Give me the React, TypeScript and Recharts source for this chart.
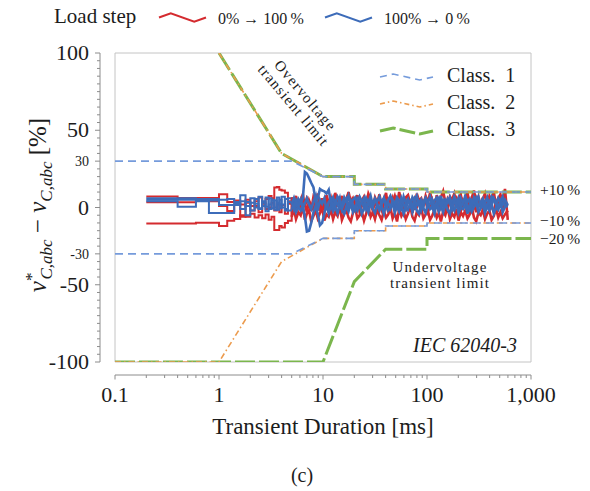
import React from 'react';
import { ComposedChart, Line, XAxis, YAxis, ReferenceArea, ReferenceLine, Legend } from 'recharts';

// ---- layout ----
const W = 590;
const H = 491;
const MARGIN = { top: 53, right: 59, bottom: 116, left: 100 };
const Y_AXIS_W = 15;
const X_AXIS_H = 13;
const PLOT_W = W - MARGIN.left - Y_AXIS_W - MARGIN.right;
const PLOT_H = H - MARGIN.top - MARGIN.bottom - X_AXIS_H;

const SERIF = "'Liberation Serif', 'Times New Roman', serif";
const INK = '#1c1c1c';
const AXIS = '#8c8c8c';
const FRAME = '#c4c4c4';

const RED = '#d42b2f';
const BLUE = '#3d6cb9';
const C1 = '#759bdb';
const C2 = '#ec9b4d';
const C3 = '#7bb64d';

// ---- axes ----
const xTicks = [
  0.1, 0.2, 0.3, 0.4, 0.5, 0.6, 0.7, 0.8, 0.9,
  1, 2, 3, 4, 5, 6, 7, 8, 9,
  10, 20, 30, 40, 50, 60, 70, 80, 90,
  100, 200, 300, 400, 500, 600, 700, 800, 900,
  1000,
];
const xMajor = [0.1, 1, 10, 100, 1000];
const xMajorLabels = ['0.1', '1', '10', '100', '1,000'];

const yTicks = [
  -100, -95, -90, -85, -80, -75, -70, -65, -60, -55, -50, -45, -40, -35, -30, -25, -20, -15, -10, -5,
  0, 5, 10, 15, 20, 25, 30, 35, 40, 45, 50, 55, 60, 65, 70, 75, 80, 85, 90, 95, 100,
];
const yMajor = [-100, -50, 0, 50, 100];
const yMinorLabelled = [-30, 30];

// ---- measured voltage error, three phases per load step (time in ms, error in %) ----
// first 5 ms: controller updates, held between samples
const heldTime = [
  0.2, 0.4, 0.6, 0.8, 1.0, 1.2, 1.4, 1.6, 1.8, 2.0,
  2.2, 2.4, 2.6, 2.8, 3.0, 3.2, 3.4, 3.6, 3.8, 4.0,
  4.3, 4.6, 5.0,
];
const upHeldA = [
  7.2, 6.2, 6.2, 6.2, 8.6, 3.5, 4.5, 2.0, 5.0, 1.0,
  4.0, 6.5, 3.0, 5.5, 7.5, 6.0, 13.0, 13.2, 11.5, 11.0,
  9.5, 4.0, 6.5,
];
const upHeldB = [
  3.4, 3.4, 4.2, 4.0, 1.0, -2.3, 2.0, -6.0, 3.0, -2.0,
  1.0, -3.0, 2.5, -1.0, 0.0, 3.0, -2.0, 2.0, -3.0, 1.5,
  -4.0, 2.5, -6.0,
];
const upHeldC = [
  -10.3, -10.3, -9.8, -9.8, -12.0, -8.5, -7.5, -5.0, -6.0, -4.0,
  -6.5, -5.0, -7.0, -4.5, -8.0, -6.0, -14.5, -14.5, -12.0, -13.0,
  -10.0, -8.5, 1.5,
];
const downHeldA = [
  6.0, 6.0, 5.5, 5.5, 5.0, 5.5, 3.5, 8.0, 1.0, 6.0,
  0.0, 7.0, 1.0, 6.5, -1.0, 5.0, 0.0, 6.5, 2.0, 7.0,
  -1.0, 6.0, 2.0,
];
const downHeldB = [
  5.0, 5.0, 4.5, 4.5, 1.6, 1.6, 1.6, 4.0, -5.0, 3.0,
  5.5, -1.0, 4.0, 0.5, 6.0, -0.5, 4.5, -1.5, 5.0, 0.0,
  5.5, -2.0, -1.0,
];
const downHeldC = [
  4.0, 0.5, 4.0, -3.5, -3.5, -3.5, 2.5, -1.0, 3.5, -2.0,
  2.5, -0.5, 3.0, -2.5, 2.0, 4.5, -1.5, 3.0, -0.5, 2.0,
  -2.0, 3.5, 3.5,
];

// from 5 ms on: densely sampled ripple
const denseTime = [
  5.0, 5.25, 5.5, 5.8, 6.1, 6.4, 6.7, 7.0, 7.35, 7.7,
  8.1, 8.5, 8.9, 9.35, 9.8, 10.3, 10.8, 11.35, 11.9, 12.5,
  13.1, 13.8, 14.5, 15.2, 16, 16.8, 17.6, 18.5, 19.4, 20.4,
  21.4, 22.5, 23.6, 24.8, 26, 27.3, 28.7, 30.1, 31.6, 33.2,
  34.9, 36.6, 38.5, 40.4, 42.4, 44.5, 46.7, 49, 51.5, 54,
  56.7, 59.6, 62.5, 65.7, 69, 72.4, 76, 79.8, 83.8, 88,
  92.4, 97, 102, 107, 112, 118, 124, 130, 136, 143,
  150, 158, 166, 174, 183, 192, 201, 211, 222, 233,
  245, 257, 270, 283, 297, 312, 328, 344, 361, 379,
  398, 418, 439, 461, 484, 508, 534, 562, 598,
];
const upDenseA = [
  6.5, 2.0, 7.5, -1.0, 5.0, 8.5, 0.5, 6.0, 3.5, -2.0,
  7.0, 4.5, 9.0, 1.0, 5.5, -1.5, 8.0, 3.0, 6.5, 0.0,
  9.5, 4.0, 2.5, 7.5, -2.0, 5.0, 10.0, 3.5, 6.0, 1.5,
  8.0, -1.0, 4.5, 7.0, 2.0, 9.0, 5.5, 0.5, 6.5, 3.0,
  8.5, 1.0, 5.0, 9.5, -0.5, 6.0, 3.5, 7.5, 2.0, 10.0,
  4.0, 0.0, 6.5, 8.0, 2.5, 5.5, -1.5, 9.0, 4.5, 6.0,
  1.0, 7.5, 3.0, 9.5, 5.0, -1.0, 8.0, 2.5, 6.5, 10.5,
  3.5, 0.5, 7.0, 5.0, 9.0, 1.5, 6.0, 8.5, -0.5, 4.0,
  9.5, 2.5, 6.5, 11.0, 3.0, 7.0, 0.0, 5.5, 9.0, 2.0,
  7.5, 4.5, 10.0, 1.0, 6.0, 8.5, 3.0, 12.0, -8.0,
];
const upDenseB = [
  -6.0, -1.0, -7.5, -3.0, -5.0, 0.5, -8.0, -4.0, -2.0, -9.0,
  -5.5, -1.5, -7.0, -3.5, 0.0, -8.5, -4.5, -6.0, -1.0, -7.5,
  -3.0, -5.5, 1.0, -8.0, -4.0, -2.0, -6.5, -9.0, -3.5, -0.5,
  -7.0, -5.0, -2.5, -8.5, -4.0, 0.5, -6.0, -3.0, -7.5, -1.5,
  -5.0, -8.0, -2.0, -6.5, -4.5, 0.0, -7.0, -3.5, -9.0, -1.0,
  -5.5, -2.5, -7.5, -4.0, 1.0, -6.0, -8.5, -3.0, -5.0, -0.5,
  -7.0, -4.5, -2.0, -8.0, -5.5, -1.5, -6.5, -3.5, -9.0, -2.5,
  -5.0, 0.5, -7.5, -4.0, -6.0, -1.0, -8.5, -3.0, -5.5, -2.0,
  -7.0, -4.5, 0.0, -6.5, -9.0, -3.5, -5.0, -1.5, -7.5, -4.0,
  -2.0, -8.0, -5.5, -0.5, -6.5, -3.0, -7.0, -4.5, -2.0,
];
const upDenseC = [
  1.5, 4.0, -2.5, 3.0, 0.0, 5.5, 2.0, -3.0, 4.5, 1.0,
  -1.5, 5.0, 2.5, -2.0, 6.0, 0.5, 3.5, -3.5, 4.0, 1.5,
  -0.5, 5.5, 2.0, -2.5, 3.0, 6.0, 0.0, 4.5, -1.5, 2.5,
  5.0, -3.0, 1.0, 4.0, -1.0, 6.5, 2.5, -2.0, 3.5, 0.5,
  5.5, -1.5, 2.0, 4.5, -3.0, 1.5, 6.0, 0.0, 3.0, -2.5,
  4.5, 1.0, -1.0, 5.5, 2.5, -3.5, 3.5, 0.5, 6.0, -1.5,
  2.0, 4.5, -2.5, 1.5, 5.0, 0.0, 3.0, -3.0, 4.0, 1.0,
  -1.5, 5.5, 2.5, -2.0, 3.5, 6.0, 0.5, -2.5, 4.5, 1.5,
  3.0, -1.0, 5.0, 2.0, -3.0, 4.0, 0.5, 6.5, -1.5, 2.5,
  5.0, 0.0, -2.5, 3.5, 1.0, 5.5, -1.0, 2.5, 1.0,
];
const downDenseA = [
  2.0, 6.0, 1.0, 5.5, 3.0, 6.0, 23.0, 22.0, 19.0, 16.0,
  13.0, 4.0, 6.0, 12.0, 11.0, 10.5, 9.0, 11.5, 3.0, 6.5,
  2.0, 7.0, 4.5, 1.0, 6.5, 3.5, 7.5, 0.5, 5.0, 6.5,
  2.5, 7.0, 4.0, 0.0, 6.0, 3.0, 7.5, 1.5, 5.5, 4.0,
  7.0, 2.0, 6.0, 0.5, 5.0, 7.5, 3.5, 1.0, 6.5, 4.5,
  0.0, 7.0, 3.0, 5.5, 1.5, 6.5, 4.0, 7.5, 2.0, 5.0,
  0.5, 6.0, 3.5, 7.0, 1.0, 4.5, 6.5, 2.5, 7.5, 0.0,
  5.0, 3.0, 6.5, 1.5, 7.0, 4.0, 0.5, 6.0, 2.5, 7.5,
  3.5, 5.5, 0.0, 6.5, 4.0, 7.0, 1.5, 5.0, 3.0, 6.5,
  0.5, 7.0, 4.5, 2.0, 6.0, 3.5, 7.0, 1.0, 2.0,
];
const downDenseB = [
  -1.0, 2.0, -3.0, 0.5, -2.0, 1.0, -6.0, -15.5, -15.0, -10.0,
  -3.0, 1.0, -4.0, -11.5, -10.0, -4.0, 2.0, -3.5, 1.5, -2.5,
  0.5, -3.5, 2.0, -1.5, -4.0, 1.0, -2.5, 3.0, -3.0, 0.0,
  -2.0, 2.5, -4.0, -0.5, 1.5, -3.0, 3.0, -1.0, -3.5, 2.0,
  -1.5, 0.5, -4.0, 2.5, -2.0, -0.5, 3.0, -3.5, 1.0, -2.5,
  2.0, -4.0, 0.0, -1.5, 3.0, -3.0, 1.5, -2.0, -4.0, 2.5,
  -0.5, -3.5, 2.0, -1.0, 0.5, -4.0, 3.0, -2.5, 1.0, -3.0,
  2.5, -1.5, -4.0, 1.0, -2.0, 3.0, -3.5, 0.0, -1.0, 2.0,
  -4.0, 1.5, -2.5, 0.5, 3.0, -3.0, -0.5, 2.0, -3.5, 1.0,
  -2.0, 2.5, -4.0, 0.0, -1.5, 3.0, -3.0, 0.5, 1.0,
];
const downDenseC = [
  3.5, -1.0, 4.5, 1.0, 5.0, -0.5, 3.0, 6.0, 2.0, -1.0,
  4.0, 7.5, -2.0, 5.0, 2.5, 6.0, -1.5, 3.5, 5.5, 0.5,
  4.0, 1.5, 6.0, -1.0, 3.0, 5.5, 0.0, 4.5, 2.0, -1.5,
  5.0, 1.0, 3.5, 6.0, -1.0, 2.5, 4.5, 0.5, 5.5, 2.0,
  -1.5, 4.0, 6.0, 1.5, 3.0, -0.5, 5.0, 2.5, 4.0, 0.0,
  6.0, 2.0, -1.0, 4.5, 3.0, 0.5, 5.5, 1.5, 3.5, -1.5,
  4.0, 6.0, 1.0, 2.5, 5.0, -0.5, 3.5, 6.0, 0.5, 4.5,
  1.5, 5.5, 3.0, -1.0, 4.0, 2.0, 6.0, 0.0, 3.5, 5.0,
  1.0, -1.5, 4.5, 2.5, 6.0, 0.5, 3.0, 5.5, -1.0, 2.0,
  4.0, 1.5, 6.0, 3.0, -0.5, 4.5, 2.0, 5.0, 1.5,
];

// ---- IEC 62040-3 dynamic output performance limits (time in ms, deviation in %) ----
const overT = [1, 4, 10, 20, 20, 40, 40, 100, 100, 1000];
const overV = [100, 35, 20, 20, 15, 15, 12, 12, 10, 10];

const class1T = [0.1, 5, 10, 20, 20, 40, 40, 100, 100, 1000];
const class1UpV = [30, 30, 20, 20, 15, 15, 12, 12, 10, 10];
const class1LowV = [-30, -30, -20, -20, -15, -15, -12, -12, -10, -10];

const class2LowT = [0.1, 1, 4, 10, 20, 20, 40, 40, 100, 100, 1000];
const class2LowV = [-100, -100, -35, -20, -20, -15, -15, -12, -12, -10, -10];

const class3LowT = [0.1, 10, 20, 40, 100, 100, 1000];
const class3LowV = [-100, -100, -48, -27, -27, -20, -20];

const loadStepNames = ['0% \u2192 100\u2009%', '100% \u2192 0\u2009%'];
const classNames = ['Class.\u00A0 1', 'Class.\u00A0 2', 'Class.\u00A0 3'];

const toPoints = (t: number[], v: number[]) => t.map((tt, i) => ({ t: tt, v: v[i] }));

const heldData = heldTime.map((t, i) => ({
  t,
  ua: upHeldA[i],
  ub: upHeldB[i],
  uc: upHeldC[i],
  da: downHeldA[i],
  db: downHeldB[i],
  dc: downHeldC[i],
}));
const denseData = denseTime.map((t, i) => ({
  t,
  ua: upDenseA[i],
  ub: upDenseB[i],
  uc: upDenseC[i],
  da: downDenseA[i],
  db: downDenseB[i],
  dc: downDenseC[i],
}));

const phases = [
  { key: 'ua', color: RED },
  { key: 'ub', color: RED },
  { key: 'uc', color: RED },
  { key: 'da', color: BLUE },
  { key: 'db', color: BLUE },
  { key: 'dc', color: BLUE },
];

const classStyles = [
  { color: C1, width: 1.6, legendDash: '7 5' },
  { color: C2, width: 1.6, legendDash: '5 3 1.5 3' },
  { color: C3, width: 3, legendDash: '16 4' },
];

// ---- axis ticks ----
const XTick = (props: any) => {
  const { x, y, payload } = props;
  const v = payload.value as number;
  const mi = xMajor.indexOf(v);
  const axisY = y + X_AXIS_H;
  return (
    <g>
      {v === xTicks[0] && (
        <line x1={x} x2={x + PLOT_W} y1={axisY} y2={axisY} stroke={AXIS} strokeWidth={1} />
      )}
      <line x1={x} x2={x} y1={axisY} y2={axisY + (mi >= 0 ? 4.5 : 3)} stroke={AXIS} strokeWidth={1} />
      {mi >= 0 && (
        <text x={x} y={axisY + 27} textAnchor="middle" fontFamily={SERIF} fontSize={22} fill={INK}>
          {xMajorLabels[mi]}
        </text>
      )}
    </g>
  );
};

const YTick = (props: any) => {
  const { x, y, payload } = props;
  const v = payload.value as number;
  const axisX = x - Y_AXIS_W;
  const big = yMajor.includes(v);
  const small = yMinorLabelled.includes(v);
  return (
    <g>
      {v === yTicks[yTicks.length - 1] && (
        <line x1={axisX} x2={axisX} y1={y} y2={y + PLOT_H} stroke={AXIS} strokeWidth={1} />
      )}
      <line x1={axisX - (big || small ? 5 : 3)} x2={axisX} y1={y} y2={y} stroke={AXIS} strokeWidth={1} />
      {big && (
        <text x={axisX - 11} y={y + 7} textAnchor="end" fontFamily={SERIF} fontSize={22} fill={INK}>
          {String(v)}
        </text>
      )}
      {small && (
        <text x={axisX - 11} y={y + 5} textAnchor="end" fontFamily={SERIF} fontSize={14} fill={INK}>
          {String(v)}
        </text>
      )}
    </g>
  );
};

const XTitle = () => (
  <g fontFamily={SERIF} fill={INK}>
    <text x={323} y={434} textAnchor="middle" fontSize={23}>
      Transient Duration [ms]
    </text>
    <text x={302} y={482} textAnchor="middle" fontSize={20}>
      (c)
    </text>
  </g>
);

const YTitle = () => (
  <text transform="translate(46, 205) rotate(-90)" textAnchor="middle" fontFamily={SERIF} fontSize={25} fill={INK}>
    <tspan fontStyle="italic">v</tspan>
    <tspan fontSize={17} dy={-9}>*</tspan>
    <tspan fontSize={17} fontStyle="italic" dx={-7} dy={15}>C,abc</tspan>
    <tspan dy={-6}>{'\u00A0\u2212\u00A0'}</tspan>
    <tspan fontStyle="italic">v</tspan>
    <tspan fontSize={17} fontStyle="italic" dy={6}>C,abc</tspan>
    <tspan dy={-6}>{'\u00A0[%]'}</tspan>
  </text>
);

// notes placed relative to the plot frame
const FrameNotes = (props: any) => {
  const vb = props.viewBox || { x: 115, y: 53, width: PLOT_W, height: PLOT_H };
  const { x, y, width, height } = vb;
  return (
    <g fontFamily={SERIF} fill={INK}>
      <text
        transform={`translate(${x + 184}, ${y + 48}) rotate(50)`}
        textAnchor="middle"
        fontSize={15}
        letterSpacing={1.2}
      >
        <tspan x={0} y={-3.5}>Overvoltage</tspan>
        <tspan x={0} y={12}>transient limit</tspan>
      </text>
      <text x={x + 325} y={y + 219} textAnchor="middle" fontSize={15} letterSpacing={1.1}>
        Undervoltage
      </text>
      <text x={x + 325} y={y + 235} textAnchor="middle" fontSize={15} letterSpacing={1.1}>
        transient limit
      </text>
      <text x={x + width - 14} y={y + height - 10} textAnchor="end" fontSize={20} fontStyle="italic">
        IEC 62040-3
      </text>
    </g>
  );
};

// limit value written just outside the right edge of the frame
const BandLabel = (props: any) => {
  const { viewBox, text, shift } = props;
  if (!viewBox) return null;
  return (
    <text
      x={viewBox.x + viewBox.width + 9}
      y={viewBox.y + 5 + shift}
      fontFamily={SERIF}
      fontSize={15.5}
      fill={INK}
    >
      {text}
    </text>
  );
};

const zigzag = (x0: number, y0: number, w: number, a: number) =>
  `${x0},${y0} ${x0 + w * 0.25},${y0 - a} ${x0 + w * 0.75},${y0 + a} ${x0 + w},${y0}`;

const LegendOverlay = () => (
  <svg width={W} height={H} style={{ position: 'absolute', left: 0, top: 0, overflow: 'visible' }}>
    <g fontFamily={SERIF} fill={INK}>
      <text x={54} y={23} fontSize={21}>Load step</text>
      {[RED, BLUE].map((c, i) => {
        const x0 = 159 + i * 166;
        return (
          <g key={c}>
            <polyline points={zigzag(x0, 17.5, 47, 4.2)} fill="none" stroke={c} strokeWidth={2.2} />
            <text x={x0 + 59} y={24} fontSize={16}>{loadStepNames[i]}</text>
          </g>
        );
      })}
      {classStyles.map((s, i) => {
        const yy = 77 + i * 27;
        return (
          <g key={i}>
            <polyline
              points={zigzag(380, yy, 53, 3)}
              fill="none"
              stroke={s.color}
              strokeWidth={s.width}
              strokeDasharray={s.legendDash}
            />
            <text x={447} y={yy + 5} fontSize={20} style={{ whiteSpace: 'pre' }}>{classNames[i]}</text>
          </g>
        );
      })}
    </g>
  </svg>
);

export default function App() {
  return (
    <div style={{ width: W, height: H, overflow: 'hidden', background: '#fff' }}>
      <style>{'body{margin:0;background:#fff;}'}</style>
      <ComposedChart width={W} height={H} margin={MARGIN}>
        <XAxis
          dataKey="t"
          type="number"
          scale="log"
          domain={[0.1, 1000]}
          allowDataOverflow
          ticks={xTicks}
          interval={0}
          height={X_AXIS_H}
          tickSize={0}
          tickMargin={0}
          axisLine={false}
          tickLine={false}
          tick={<XTick />}
          label={<XTitle />}
        />
        <YAxis
          type="number"
          domain={[-100, 100]}
          allowDataOverflow
          ticks={yTicks}
          interval={0}
          width={Y_AXIS_W}
          tickSize={0}
          tickMargin={0}
          axisLine={false}
          tickLine={false}
          tick={<YTick />}
          label={<YTitle />}
        />
        <ReferenceArea
          x1={0.1}
          x2={1000}
          y1={-100}
          y2={100}
          fill="none"
          fillOpacity={0}
          stroke={FRAME}
          strokeWidth={1}
          label={<FrameNotes />}
        />

        {phases.map((p) => (
          <Line
            key={`held-${p.key}`}
            data={heldData}
            dataKey={p.key}
            type="stepAfter"
            stroke={p.color}
            strokeWidth={2}
            dot={false}
            isAnimationActive={false}
          />
        ))}
        {phases.map((p) => (
          <Line
            key={`dense-${p.key}`}
            data={denseData}
            dataKey={p.key}
            type="linear"
            stroke={p.color}
            strokeWidth={2.6}
            strokeLinejoin="miter"
            dot={false}
            isAnimationActive={false}
          />
        ))}

        <Line data={toPoints(overT, overV)} dataKey="v" type="linear" stroke={C3} strokeWidth={3} strokeDasharray="20 4" dot={false} isAnimationActive={false} />
        <Line data={toPoints(class3LowT, class3LowV)} dataKey="v" type="linear" stroke={C3} strokeWidth={3} strokeDasharray="20 4" dot={false} isAnimationActive={false} />
        <Line data={toPoints(overT, overV)} dataKey="v" type="linear" stroke={C2} strokeWidth={1.6} strokeDasharray="6 3 1.5 3" dot={false} isAnimationActive={false} />
        <Line data={toPoints(class2LowT, class2LowV)} dataKey="v" type="linear" stroke={C2} strokeWidth={1.6} strokeDasharray="6 3 1.5 3" dot={false} isAnimationActive={false} />
        <Line data={toPoints(class1T, class1UpV)} dataKey="v" type="linear" stroke={C1} strokeWidth={1.6} strokeDasharray="8 5" dot={false} isAnimationActive={false} />
        <Line data={toPoints(class1T, class1LowV)} dataKey="v" type="linear" stroke={C1} strokeWidth={1.6} strokeDasharray="8 5" dot={false} isAnimationActive={false} />

        <ReferenceLine y={10} stroke="none" label={<BandLabel text={'+10\u2009%'} shift={-2} />} />
        <ReferenceLine y={-10} stroke="none" label={<BandLabel text={'\u221210\u2009%'} shift={-2} />} />
        <ReferenceLine y={-20} stroke="none" label={<BandLabel text={'\u221220\u2009%'} shift={0.5} />} />

        <Legend
          layout="horizontal"
          verticalAlign="middle"
          align="center"
          wrapperStyle={{ position: 'absolute', left: 0, top: 0, width: W, height: H, pointerEvents: 'none' }}
          content={() => <LegendOverlay />}
        />
      </ComposedChart>
    </div>
  );
}
